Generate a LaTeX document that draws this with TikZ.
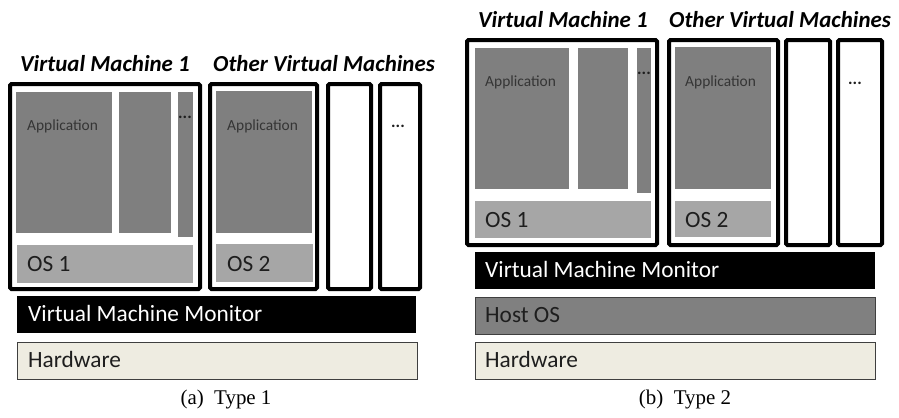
\documentclass[tikz,border=0pt]{standalone}
\usepackage{fontspec}
\setmainfont{Carlito}
\newfontfamily\capfont{Liberation Serif}

\definecolor{appgray}{HTML}{7F7F7F}
\definecolor{osgray}{HTML}{A6A6A6}
\definecolor{hostgray}{HTML}{808080}
\definecolor{hwbeige}{HTML}{EEECE1}
\definecolor{edgegray}{HTML}{3F3F3F}
\definecolor{textdark}{HTML}{1E1E1E}

\begin{document}
\begin{tikzpicture}[x=1bp,y=-1bp,
  vmbox/.style={draw=black, line width=4bp, rounded corners=1.5bp, fill=white},
  appbox/.style={fill=appgray},
  osbox/.style={fill=osgray},
  vmmbox/.style={fill=black},
  hostbox/.style={fill=hostgray, draw=edgegray, line width=1bp},
  hwbox/.style={fill=hwbeige, draw=edgegray, line width=1bp},
  title/.style={font=\fontsize{23}{25}\selectfont\bfseries\itshape, anchor=base west, inner sep=0},
  layertext/.style={font=\fontsize{23.4}{25}\selectfont, anchor=base west, inner sep=0, text=textdark},
  apptext/.style={font=\fontsize{15.5}{17}\selectfont, anchor=base west, inner sep=0, text=textdark!90},
  dots/.style={font=\fontsize{17}{17}\selectfont\bfseries, anchor=base, inner sep=0, text=textdark},
  caption/.style={font=\capfont\fontsize{21}{23}\selectfont, anchor=base, inner sep=0}
]
\useasboundingbox (0,0) rectangle (899,417);

% ---------------- (a) Type 1 ----------------
\node[title] (a-t1) at (20,71) {Virtual Machine 1};
\node[title] (a-t2) at (213,71) {Other Virtual Machines};

% guest machine 1
\path[vmbox] (10,84) rectangle (200,289);
\path[appbox] (16,92) rectangle (112,233);
\path[appbox] (119,92) rectangle (171,233);
\path[appbox] (178,92) rectangle (193,237);
\path[osbox] (17,245) rectangle (193,283);
\node[apptext] (a-app1) at (27,130) {Application};
\node[dots] (a-dots1) at (185,118) {...};
\node[layertext] (a-os1) at (27,271) {OS 1};

% other guest machines
\path[vmbox] (210,84) rectangle (317,289);
\path[appbox] (216,91) rectangle (312,233);
\path[osbox] (216,244) rectangle (313,282);
\node[apptext] (a-app2) at (227,130) {Application};
\node[layertext] (a-os2) at (227,271) {OS 2};
\path[vmbox] (328,84) rectangle (371,289);
\path[vmbox] (380,84) rectangle (420,289);
\node[dots] (a-dots2) at (398,127) {...};

% monitor and hardware
\path[vmmbox] (17,296) rectangle (416,333);
\node[layertext, text=white] (a-vmm) at (28,321) {Virtual Machine Monitor};
\path[hwbox] (17,342) rectangle (417,379);
\node[layertext] (a-hw) at (28,367) {Hardware};

\node[caption] (a-cap) at (226,404) {(a)\ \ Type 1};

% ---------------- (b) Type 2 ----------------
\node[title] (b-t1) at (478,27) {Virtual Machine 1};
\node[title] (b-t2) at (669,27) {Other Virtual Machines};

% guest machine 1
\path[vmbox] (467,40) rectangle (657,245);
\path[appbox] (475,48) rectangle (569,189);
\path[appbox] (578,48) rectangle (628,189);
\path[appbox] (637,48) rectangle (651,193);
\path[osbox] (475,201) rectangle (651,238);
\node[apptext] (b-app1) at (485,86) {Application};
\node[dots] (b-dots1) at (644,74) {...};
\node[layertext] (b-os1) at (485,227) {OS 1};

% other guest machines
\path[vmbox] (669,40) rectangle (778,245);
\path[appbox] (675,47) rectangle (771,189);
\path[osbox] (675,201) rectangle (771,237);
\node[apptext] (b-app2) at (685,86) {Application};
\node[layertext] (b-os2) at (685,227) {OS 2};
\path[vmbox] (786,40) rectangle (830,245);
\path[vmbox] (838,40) rectangle (882,245);
\node[dots] (b-dots2) at (855,84) {...};

% monitor, host system and hardware
\path[vmmbox] (475,252) rectangle (875,289);
\node[layertext, text=white] (b-vmm) at (485,277) {Virtual Machine Monitor};
\path[hostbox] (475,297) rectangle (875,334);
\node[layertext] (b-host) at (485,322) {Host OS};
\path[hwbox] (475,342) rectangle (875,379);
\node[layertext] (b-hw) at (485,367) {Hardware};

\node[caption] (b-cap) at (685,404) {(b)\ \ Type 2};
\end{tikzpicture}
\end{document}
